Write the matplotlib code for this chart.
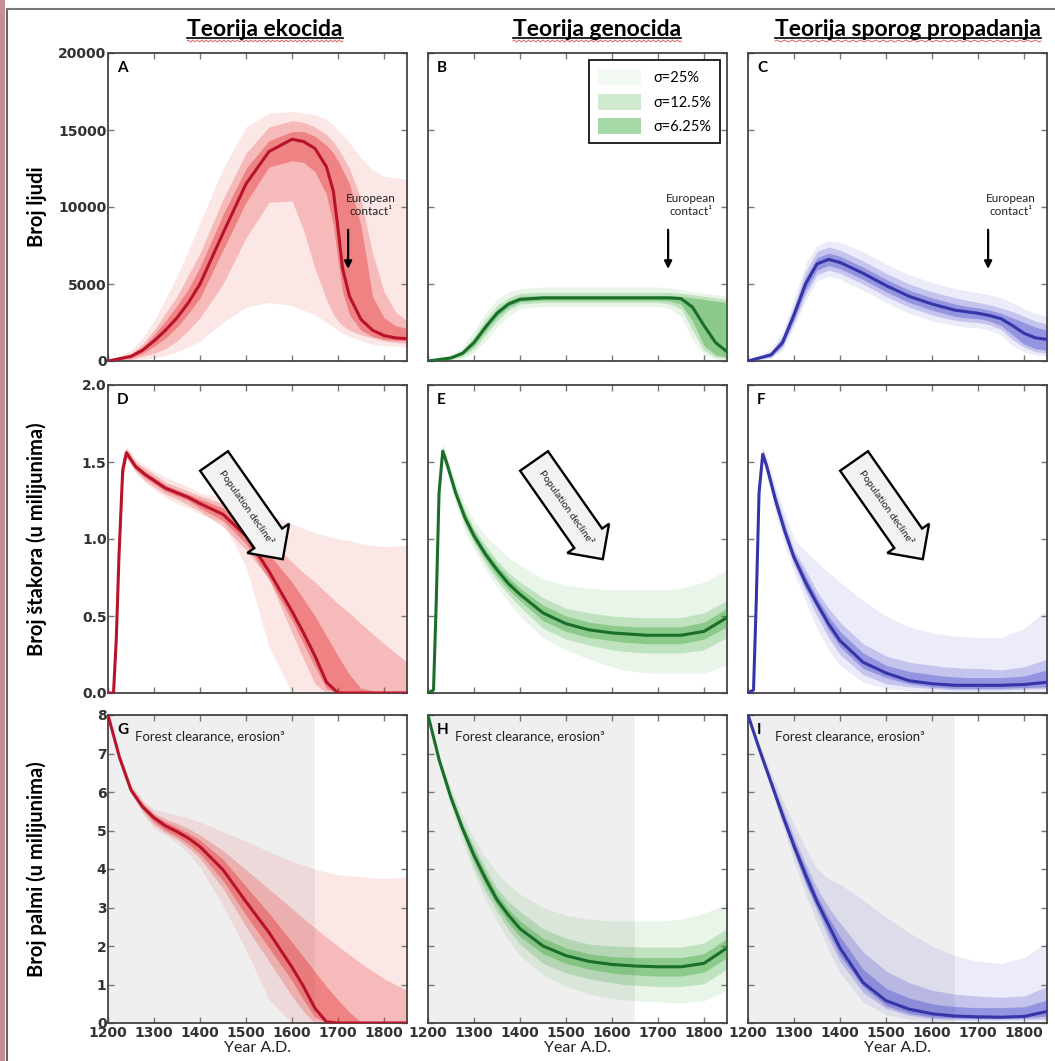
import numpy as np
import matplotlib
matplotlib.use('Agg')
from matplotlib import pyplot as plt
from matplotlib.lines import Line2D
from matplotlib.patches import Patch, Rectangle

plt.rcParams['font.family'] = ['Lato', 'DejaVu Sans']

# --- data ------------------------------------------------------------------
# row 1: broj ljudi
years_1 = [1200, 1250, 1275, 1300, 1325, 1350, 1375, 1400, 1450, 1500, 1550, 1600,
           1625, 1650, 1675, 1690, 1700, 1710, 1725, 1750, 1775, 1800, 1825, 1850]

a_mid = [0, 300, 700, 1300, 2000, 2800, 3800, 5000, 8300, 11500, 13600, 14400, 14250, 13800, 12600, 11000, 8600, 6000, 4200, 2700, 2000, 1650, 1500, 1450]
a_lo6 = [0, 200, 500, 950, 1500, 2200, 3100, 4100, 7200, 10300, 12600, 13000, 12900, 12300, 10800, 8800, 6500, 4500, 3000, 2000, 1600, 1400, 1350, 1300]
a_hi6 = [0, 400, 900, 1700, 2600, 3600, 4700, 6100, 9500, 12500, 14300, 14900, 14900, 14600, 14000, 13500, 13000, 12400, 11500, 8800, 4200, 2800, 2300, 2100]
a_lo12 = [0, 100, 300, 500, 800, 1300, 2000, 2800, 5000, 8000, 10300, 10400, 8500, 6000, 4000, 3000, 2600, 2300, 2000, 1700, 1500, 1300, 1200, 1150]
a_hi12 = [0, 500, 1100, 2000, 3100, 4200, 5600, 7000, 10500, 13500, 15200, 15600, 15500, 15200, 14700, 14200, 13800, 13300, 12500, 10500, 7000, 4500, 3200, 2600]
a_lo25 = [0, 50, 100, 200, 350, 600, 900, 1300, 2500, 3500, 3800, 3600, 3300, 3000, 2500, 2200, 2000, 1800, 1600, 1300, 1100, 1000, 950, 900]
a_hi25 = [0, 700, 1500, 2600, 4000, 5500, 7200, 9000, 12500, 15200, 16100, 16200, 16100, 16000, 15700, 15300, 15000, 14700, 14200, 13200, 12400, 12000, 11900, 11800]

b_mid = [0, 200, 500, 1200, 2200, 3100, 3700, 4000, 4100, 4100, 4100, 4100, 4100, 4100, 4100, 4100, 4100, 4100, 4100, 4050, 3500, 2300, 1200, 600]
b_lo6 = [0, 150, 400, 1000, 1950, 2850, 3500, 3850, 3950, 3950, 3950, 3950, 3950, 3950, 3950, 3950, 3950, 3930, 3900, 3700, 2600, 1000, 400, 250]
b_hi6 = [0, 250, 600, 1400, 2450, 3350, 3900, 4200, 4250, 4250, 4250, 4250, 4250, 4250, 4250, 4250, 4250, 4250, 4250, 4200, 4100, 4000, 3900, 3800]
b_lo12 = [0, 100, 300, 800, 1700, 2600, 3300, 3700, 3800, 3800, 3800, 3800, 3800, 3800, 3800, 3800, 3800, 3750, 3700, 3400, 2000, 700, 250, 150]
b_hi12 = [0, 300, 700, 1600, 2700, 3600, 4100, 4400, 4450, 4450, 4450, 4450, 4450, 4450, 4450, 4450, 4450, 4450, 4450, 4400, 4300, 4200, 4100, 4000]
b_lo25 = [0, 50, 150, 500, 1300, 2200, 2900, 3400, 3550, 3550, 3550, 3550, 3550, 3550, 3550, 3550, 3550, 3500, 3400, 2900, 1400, 400, 100, 50]
b_hi25 = [0, 400, 900, 2000, 3100, 4000, 4500, 4700, 4800, 4800, 4800, 4800, 4800, 4800, 4800, 4800, 4800, 4780, 4750, 4650, 4500, 4400, 4300, 4200]

c_mid = [0, 400, 1200, 3000, 5000, 6300, 6600, 6400, 5700, 4900, 4200, 3700, 3500, 3300, 3200, 3140, 3100, 3040, 2950, 2750, 2300, 1800, 1500, 1400]
c_lo6 = [0, 300, 1000, 2700, 4600, 5900, 6200, 6000, 5300, 4500, 3800, 3300, 3100, 2900, 2800, 2770, 2750, 2700, 2600, 2300, 1700, 1100, 800, 700]
c_hi6 = [0, 500, 1400, 3300, 5400, 6700, 7000, 6800, 6100, 5300, 4600, 4100, 3900, 3700, 3550, 3490, 3450, 3390, 3300, 3100, 2800, 2500, 2200, 2000]
c_lo12 = [0, 250, 900, 2500, 4300, 5600, 5900, 5700, 5000, 4200, 3500, 3000, 2800, 2650, 2550, 2520, 2500, 2440, 2350, 2050, 1400, 900, 600, 500]
c_hi12 = [0, 600, 1600, 3600, 5800, 7100, 7400, 7200, 6500, 5700, 5000, 4500, 4300, 4100, 3950, 3860, 3800, 3740, 3650, 3450, 3200, 2900, 2600, 2400]
c_lo25 = [0, 150, 700, 2200, 3900, 5200, 5500, 5300, 4600, 3800, 3100, 2600, 2450, 2300, 2200, 2170, 2150, 2090, 2000, 1700, 1000, 600, 400, 300]
c_hi25 = [0, 800, 1900, 4000, 6300, 7500, 7800, 7700, 7100, 6300, 5600, 5100, 4900, 4700, 4550, 4490, 4450, 4390, 4300, 4100, 3800, 3400, 3100, 2900]

# row 2: broj štakora (milijuni)
years_2 = [1200, 1212, 1218, 1224, 1232, 1240, 1260, 1280, 1300, 1325, 1350, 1375, 1400,
           1450, 1500, 1550, 1600, 1625, 1650, 1675, 1700, 1725, 1750, 1800, 1850]

d_mid = [0, 0, 0.35, 0.9, 1.45, 1.56, 1.47, 1.42, 1.38, 1.33, 1.3, 1.27, 1.23, 1.16, 1.02, 0.79, 0.53, 0.39, 0.24, 0.07, 0, 0, 0, 0, 0]
d_lo6 = [0, 0, 0.3, 0.85, 1.4, 1.54, 1.45, 1.4, 1.36, 1.31, 1.28, 1.25, 1.2, 1.12, 0.97, 0.74, 0.47, 0.32, 0.17, 0.03, 0, 0, 0, 0, 0]
d_hi6 = [0, 0, 0.4, 0.95, 1.5, 1.58, 1.49, 1.44, 1.4, 1.35, 1.32, 1.29, 1.26, 1.2, 1.08, 0.9, 0.72, 0.61, 0.5, 0.37, 0.24, 0.12, 0.03, 0, 0]
d_lo12 = [0, 0, 0.28, 0.82, 1.38, 1.53, 1.44, 1.38, 1.34, 1.29, 1.26, 1.22, 1.18, 1.08, 0.93, 0.74, 0.39, 0.22, 0.06, 0, 0, 0, 0, 0, 0]
d_hi12 = [0, 0, 0.42, 0.98, 1.52, 1.59, 1.5, 1.46, 1.42, 1.37, 1.34, 1.31, 1.28, 1.23, 1.14, 1.0, 0.85, 0.78, 0.72, 0.65, 0.58, 0.52, 0.45, 0.32, 0.2]
d_lo25 = [0, 0, 0.25, 0.8, 1.35, 1.52, 1.43, 1.37, 1.32, 1.27, 1.23, 1.2, 1.16, 1.11, 0.82, 0.3, 0, 0, 0, 0, 0, 0, 0, 0, 0]
d_hi25 = [0, 0, 0.45, 1.0, 1.55, 1.6, 1.52, 1.48, 1.44, 1.4, 1.37, 1.34, 1.3, 1.27, 1.22, 1.16, 1.1, 1.07, 1.04, 1.02, 1.0, 0.99, 0.97, 0.95, 0.96]

e_mid = [0, 0.02, 0.6, 1.3, 1.57, 1.5, 1.3, 1.14, 1.02, 0.9, 0.8, 0.71, 0.64, 0.52, 0.45, 0.41, 0.39, 0.385, 0.38, 0.375, 0.375, 0.375, 0.375, 0.4, 0.49]
e_lo6 = [0, 0.02, 0.58, 1.28, 1.55, 1.48, 1.28, 1.11, 0.99, 0.87, 0.76, 0.67, 0.6, 0.47, 0.4, 0.36, 0.34, 0.33, 0.325, 0.32, 0.32, 0.32, 0.32, 0.35, 0.43]
e_hi6 = [0, 0.02, 0.62, 1.32, 1.59, 1.52, 1.32, 1.17, 1.05, 0.93, 0.83, 0.75, 0.68, 0.57, 0.5, 0.46, 0.44, 0.435, 0.43, 0.43, 0.43, 0.43, 0.43, 0.46, 0.55]
e_lo12 = [0, 0.02, 0.57, 1.27, 1.54, 1.47, 1.26, 1.09, 0.97, 0.84, 0.73, 0.64, 0.56, 0.42, 0.35, 0.31, 0.28, 0.27, 0.265, 0.26, 0.26, 0.26, 0.26, 0.28, 0.36]
e_hi12 = [0, 0.02, 0.63, 1.33, 1.6, 1.53, 1.34, 1.19, 1.07, 0.96, 0.86, 0.78, 0.72, 0.62, 0.55, 0.52, 0.5, 0.495, 0.49, 0.49, 0.49, 0.49, 0.49, 0.52, 0.6]
e_lo25 = [0, 0.02, 0.55, 1.25, 1.52, 1.45, 1.23, 1.05, 0.93, 0.8, 0.69, 0.59, 0.5, 0.36, 0.28, 0.22, 0.17, 0.15, 0.14, 0.13, 0.13, 0.13, 0.13, 0.13, 0.18]
e_hi25 = [0, 0.02, 0.65, 1.35, 1.62, 1.55, 1.37, 1.23, 1.12, 1.02, 0.95, 0.88, 0.83, 0.74, 0.7, 0.68, 0.67, 0.67, 0.67, 0.67, 0.67, 0.67, 0.68, 0.72, 0.8]

f_mid = [0, 0.02, 0.6, 1.3, 1.55, 1.48, 1.25, 1.05, 0.88, 0.72, 0.58, 0.45, 0.34, 0.2, 0.13, 0.08, 0.06, 0.055, 0.05, 0.05, 0.05, 0.05, 0.05, 0.055, 0.07]
f_lo6 = [0, 0.02, 0.58, 1.28, 1.53, 1.46, 1.22, 1.02, 0.86, 0.68, 0.55, 0.41, 0.3, 0.16, 0.1, 0.06, 0.04, 0.035, 0.03, 0.03, 0.03, 0.03, 0.03, 0.035, 0.04]
f_hi6 = [0, 0.02, 0.62, 1.32, 1.57, 1.5, 1.28, 1.08, 0.91, 0.76, 0.62, 0.5, 0.4, 0.26, 0.18, 0.14, 0.12, 0.11, 0.105, 0.1, 0.1, 0.1, 0.1, 0.11, 0.15]
f_lo12 = [0, 0.02, 0.57, 1.27, 1.52, 1.45, 1.2, 1.0, 0.83, 0.66, 0.5, 0.36, 0.25, 0.12, 0.06, 0.04, 0.03, 0.025, 0.02, 0.02, 0.02, 0.02, 0.02, 0.025, 0.03]
f_hi12 = [0, 0.02, 0.63, 1.33, 1.58, 1.51, 1.3, 1.11, 0.93, 0.8, 0.66, 0.55, 0.46, 0.32, 0.24, 0.2, 0.18, 0.17, 0.165, 0.16, 0.16, 0.155, 0.15, 0.17, 0.22]
f_lo25 = [0, 0.02, 0.55, 1.25, 1.5, 1.43, 1.17, 0.96, 0.78, 0.6, 0.42, 0.28, 0.18, 0.07, 0.03, 0.015, 0.01, 0.01, 0.01, 0.01, 0.01, 0.01, 0.01, 0.01, 0.01]
f_hi25 = [0, 0.02, 0.65, 1.35, 1.6, 1.54, 1.34, 1.17, 1.0, 0.92, 0.85, 0.78, 0.72, 0.6, 0.5, 0.43, 0.39, 0.38, 0.37, 0.365, 0.36, 0.36, 0.36, 0.42, 0.54]

# row 3: broj palmi (milijuni)
years_3 = [1200, 1225, 1250, 1275, 1300, 1325, 1350, 1375, 1400, 1450, 1500,
           1550, 1600, 1625, 1650, 1675, 1700, 1725, 1750, 1800, 1850]

g_mid = [8.0, 6.9, 6.05, 5.62, 5.33, 5.12, 4.97, 4.8, 4.58, 3.98, 3.15, 2.35, 1.45, 0.95, 0.38, 0.03, 0, 0, 0, 0, 0]
g_lo6 = [8, 6.85, 6.0, 5.55, 5.23, 5.0, 4.85, 4.65, 4.4, 3.7, 2.8, 1.95, 1.1, 0.6, 0.15, 0, 0, 0, 0, 0, 0]
g_hi6 = [8, 6.95, 6.1, 5.68, 5.4, 5.22, 5.08, 4.93, 4.75, 4.25, 3.55, 2.85, 2.1, 1.72, 1.33, 0.95, 0.6, 0.28, 0.02, 0, 0]
g_lo12 = [8, 6.83, 5.98, 5.5, 5.15, 4.95, 4.78, 4.56, 4.28, 3.5, 2.5, 1.6, 0.7, 0.3, 0, 0, 0, 0, 0, 0, 0]
g_hi12 = [8, 6.97, 6.15, 5.75, 5.45, 5.3, 5.18, 5.05, 4.88, 4.48, 3.98, 3.48, 2.97, 2.72, 2.47, 2.23, 2.0, 1.77, 1.55, 1.15, 0.85]
g_lo25 = [8, 6.8, 5.95, 5.45, 5.05, 4.88, 4.68, 4.4, 4.05, 3.05, 1.9, 0.6, 0, 0, 0, 0, 0, 0, 0, 0, 0]
g_hi25 = [8, 7.0, 6.2, 5.8, 5.55, 5.47, 5.4, 5.32, 5.22, 4.97, 4.72, 4.45, 4.2, 4.1, 4.0, 3.92, 3.86, 3.82, 3.8, 3.75, 3.8]

h_mid = [8.0, 6.8, 5.85, 5.05, 4.35, 3.75, 3.2, 2.8, 2.45, 2.0, 1.75, 1.6, 1.52, 1.5, 1.48, 1.47, 1.46, 1.46, 1.46, 1.55, 1.95]
h_lo6 = [8, 6.75, 5.78, 4.95, 4.2, 3.58, 3.05, 2.6, 2.25, 1.8, 1.55, 1.4, 1.3, 1.27, 1.25, 1.23, 1.22, 1.22, 1.22, 1.32, 1.7]
h_hi6 = [8, 6.85, 5.92, 5.15, 4.5, 3.9, 3.35, 2.95, 2.65, 2.2, 1.95, 1.8, 1.72, 1.71, 1.7, 1.7, 1.7, 1.7, 1.7, 1.8, 2.2]
h_lo12 = [8, 6.72, 5.72, 4.88, 4.05, 3.42, 2.9, 2.43, 2.05, 1.55, 1.3, 1.15, 1.05, 1.0, 0.98, 0.96, 0.95, 0.95, 0.95, 1.02, 1.4]
h_hi12 = [8, 6.88, 5.98, 5.22, 4.6, 4.02, 3.5, 3.15, 2.9, 2.45, 2.2, 2.05, 2.0, 1.99, 1.98, 1.97, 1.97, 1.97, 1.97, 2.08, 2.45]
h_lo25 = [8, 6.65, 5.6, 4.7, 3.9, 3.2, 2.65, 2.15, 1.75, 1.25, 0.95, 0.75, 0.65, 0.6, 0.58, 0.56, 0.55, 0.53, 0.52, 0.58, 0.85]
h_hi25 = [8, 6.95, 6.1, 5.4, 4.8, 4.3, 3.9, 3.6, 3.35, 3.0, 2.8, 2.7, 2.65, 2.65, 2.65, 2.65, 2.65, 2.67, 2.7, 2.85, 3.1]

i_mid = [8.0, 7.1, 6.25, 5.4, 4.6, 3.85, 3.15, 2.55, 1.95, 1.05, 0.58, 0.36, 0.24, 0.21, 0.18, 0.17, 0.16, 0.155, 0.15, 0.17, 0.3]
i_lo6 = [8, 7.05, 6.2, 5.3, 4.45, 3.65, 3.0, 2.35, 1.75, 0.95, 0.45, 0.25, 0.16, 0.14, 0.13, 0.12, 0.12, 0.12, 0.12, 0.13, 0.18]
i_hi6 = [8, 7.15, 6.3, 5.5, 4.72, 4.02, 3.3, 2.75, 2.25, 1.4, 0.9, 0.65, 0.5, 0.46, 0.43, 0.41, 0.4, 0.4, 0.4, 0.42, 0.6]
i_lo12 = [8, 7.02, 6.15, 5.22, 4.4, 3.6, 2.9, 2.2, 1.6, 0.8, 0.38, 0.2, 0.12, 0.1, 0.09, 0.08, 0.08, 0.08, 0.08, 0.09, 0.1]
i_hi12 = [8, 7.18, 6.38, 5.6, 4.85, 4.15, 3.5, 3.0, 2.6, 1.85, 1.35, 1.05, 0.85, 0.8, 0.75, 0.72, 0.7, 0.68, 0.67, 0.7, 0.95]
i_lo25 = [8, 6.98, 6.08, 5.12, 4.2, 3.35, 2.6, 1.9, 1.3, 0.55, 0.22, 0.1, 0.05, 0.05, 0.05, 0.05, 0.05, 0.05, 0.05, 0.05, 0.05]
i_hi25 = [8, 7.25, 6.5, 5.8, 5.15, 4.55, 4.0, 3.75, 3.6, 3.2, 2.75, 2.35, 2.0, 1.87, 1.75, 1.67, 1.6, 1.57, 1.55, 1.7, 2.1]

titles = ['Teorija ekocida', 'Teorija genocida', 'Teorija sporog propadanja']
row_labels = ['Broj ljudi', 'Broj štakora (u milijunima)', 'Broj palmi (u milijunima)']
panel_letters = ['A', 'B', 'C', 'D', 'E', 'F', 'G', 'H', 'I']
sigma_labels = ['σ=25%', 'σ=12.5%', 'σ=6.25%']
x_ticks = [1200, 1300, 1400, 1500, 1600, 1700, 1800]
y_ticks = [[0, 5000, 10000, 15000, 20000], [0.0, 0.5, 1.0, 1.5, 2.0], list(range(9))]
y_max = [20000, 2.0, 8]
contact_year = 1722
forest_end = 1650

fill_colors = ['#e41a1c', '#2ca02c', '#3c3cc8']
line_colors = ['#b8132b', '#1a6e2a', '#3535a8']

series = [
    [years_1, a_mid, a_lo6, a_hi6, a_lo12, a_hi12, a_lo25, a_hi25],
    [years_1, b_mid, b_lo6, b_hi6, b_lo12, b_hi12, b_lo25, b_hi25],
    [years_1, c_mid, c_lo6, c_hi6, c_lo12, c_hi12, c_lo25, c_hi25],
    [years_2, d_mid, d_lo6, d_hi6, d_lo12, d_hi12, d_lo25, d_hi25],
    [years_2, e_mid, e_lo6, e_hi6, e_lo12, e_hi12, e_lo25, e_hi25],
    [years_2, f_mid, f_lo6, f_hi6, f_lo12, f_hi12, f_lo25, f_hi25],
    [years_3, g_mid, g_lo6, g_hi6, g_lo12, g_hi12, g_lo25, g_hi25],
    [years_3, h_mid, h_lo6, h_hi6, h_lo12, h_hi12, h_lo25, h_hi25],
    [years_3, i_mid, i_lo6, i_hi6, i_lo12, i_hi12, i_lo25, i_hi25],
]

W, H = 1055, 1061
fig = plt.figure(figsize=(W / 100, H / 100), dpi=100, facecolor='white')

col_left = [108, 428, 748]
row_top = [53, 385, 715]
ax_w, ax_h = 299, 308

# frame around the picture
fig.add_artist(Rectangle((0, 0), 5 / W, 1, transform=fig.transFigure, color='#c48e93', lw=0))
fig.add_artist(Line2D([7 / W, 7 / W], [0, 1 - 9 / H], color='#666666', lw=1.5))
fig.add_artist(Line2D([7 / W, 1], [1 - 9 / H, 1 - 9 / H], color='#777777', lw=1.5))

tick_font = dict(family='DejaVu Sans', weight='bold', size=10)

axes = []
for r in range(3):
    for c in range(3):
        k = r * 3 + c
        ax = fig.add_axes([col_left[c] / W, 1 - (row_top[r] + ax_h) / H, ax_w / W, ax_h / H])
        axes.append(ax)
        years, mid, lo6, hi6, lo12, hi12, lo25, hi25 = series[k]

        if r == 2:
            ax.axvspan(1200, forest_end, color='#efefef', lw=0, zorder=0)

        ax.fill_between(years, lo25, hi25, color=fill_colors[c], alpha=0.10, lw=0, zorder=1)
        ax.fill_between(years, lo12, hi12, color=fill_colors[c], alpha=0.22, lw=0, zorder=2)
        ax.fill_between(years, lo6, hi6, color=fill_colors[c], alpha=0.35, lw=0, zorder=3)
        ax.plot(years, mid, color=line_colors[c], lw=2.2, zorder=4, solid_joinstyle='round')

        ax.set_xlim(1200, 1850)
        ax.set_ylim(0, y_max[r])
        ax.set_xticks(x_ticks)
        ax.set_yticks(y_ticks[r])
        ax.tick_params(direction='in', length=4, width=1, color='#777777', top=True, right=True,
                       labelcolor='#333333', pad=1)
        for lab in ax.get_xticklabels() + ax.get_yticklabels():
            lab.set_fontproperties(tick_font)
        if c > 0:
            ax.tick_params(labelleft=False)
        if r < 2:
            ax.tick_params(labelbottom=False)
        else:
            ax.tick_params(axis='x', pad=2)
            ax.set_xlabel('Year A.D.', fontsize=11.5, labelpad=1, color='#222222')
        for sp in ax.spines.values():
            sp.set_color('#444444')
            sp.set_linewidth(1.3)

        ax.text(0.03, 0.975, panel_letters[k], transform=ax.transAxes, ha='left', va='top',
                fontsize=11, weight='bold', zorder=6)

        if r == 0:
            ax.text(contact_year + 50, 10150, 'European\ncontact¹', ha='center', va='center',
                    fontsize=8.5, linespacing=1.25, color='#222222', zorder=6)
            ax.annotate('', xy=(contact_year, 5800), xytext=(contact_year, 8700),
                        arrowprops=dict(arrowstyle='-|>', color='black', lw=1.6, mutation_scale=11),
                        zorder=6)
        elif r == 1:
            ax.text(1500, 1.21, 'Population decline²', rotation=-55, ha='center', va='center',
                    fontsize=7.5, color='#222222', zorder=6,
                    bbox=dict(boxstyle='rarrow,pad=1.15', fc='#f2f2f2', ec='black', lw=1.7))
        else:
            ax.text(0.09, 0.93, 'Forest clearance, erosion³', transform=ax.transAxes,
                    ha='left', va='center', fontsize=9.5, color='#222222', zorder=6)

# legend in panel B
handles = [Patch(facecolor=fill_colors[1], alpha=a, lw=0) for a in (0.06, 0.22, 0.42)]
leg = axes[1].legend(handles, sigma_labels, loc='upper right', fontsize=10.5, fancybox=False,
                     framealpha=1, edgecolor='black', handlelength=3.0, handleheight=1.3,
                     labelspacing=0.6, borderaxespad=0.5, borderpad=0.6)
leg.get_frame().set_linewidth(1.2)
leg.set_zorder(10)

# column titles with underline
title_x = [265, 597, 908]
title_objs = []
for c in range(3):
    t = fig.text(title_x[c] / W, 1 - 29 / H, titles[c], ha='center', va='center',
                 fontsize=16.5, weight='bold')
    title_objs.append(t)

# row labels
row_y = [207, 539, 869]
for r in range(3):
    fig.text(37 / W, 1 - row_y[r] / H, row_labels[r], rotation=90, ha='center', va='center',
             fontsize=14.5, weight='bold')

fig.canvas.draw()
renderer = fig.canvas.get_renderer()
for t in title_objs:
    bb = t.get_window_extent(renderer)
    x0, x1 = bb.x0 / W, bb.x1 / W
    yb = (bb.y0 + 2) / H
    fig.add_artist(Line2D([x0, x1], [yb, yb], color='black', lw=1.2))
    xs = np.linspace(x0, x1, 140)
    ys = yb - 3.5 / H + 1.0 / H * np.sin(np.linspace(0, 70 * np.pi, 140))
    fig.add_artist(Line2D(xs, ys, color='#d04040', lw=0.7, alpha=0.8))

fig.savefig('out.png', dpi=100, facecolor='white')
